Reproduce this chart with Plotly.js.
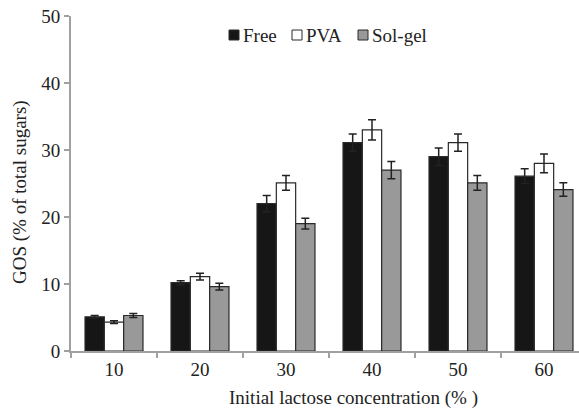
<!DOCTYPE html>
<html>
<head>
<meta charset="utf-8">
<script src="https://cdn.plot.ly/plotly-3.0.1.min.js"></script>
<style>
  html, body { margin: 0; padding: 0; background: #fff; }
  #chart { width: 579px; height: 408px; }
</style>
</head>
<body>
<div id="chart"></div>
<script>
// Initial lactose concentration (%)
const categories = ['10', '20', '30', '40', '50', '60'];

// GOS yield (% of total sugars) and standard deviations
const freeValues = [5.1, 10.2, 22.0, 31.1, 29.0, 26.1];
const freeErrors = [0.2, 0.3, 1.2, 1.3, 1.3, 1.1];

const pvaValues = [4.3, 11.1, 25.1, 33.0, 31.1, 28.0];
const pvaErrors = [0.2, 0.5, 1.1, 1.5, 1.3, 1.4];

const solgelValues = [5.3, 9.6, 19.0, 27.0, 25.1, 24.1];
const solgelErrors = [0.3, 0.5, 0.8, 1.3, 1.1, 1.0];

const seriesNames = ['Free', 'PVA', 'Sol-gel'];
const seriesFills = ['#161616', '#ffffff', '#999999'];

const serif = "'Liberation Serif', 'Times New Roman', serif";
const outline = '#2a2a2a';
const fontSize = 19;

function barTrace(name, values, errors, fill) {
  return {
    type: 'bar',
    name: name,
    x: categories,
    y: values,
    showlegend: false,
    marker: { color: fill, line: { color: outline, width: 1.2 } },
    error_y: { type: 'data', array: errors, visible: true, color: '#222', thickness: 1.5, width: 4 }
  };
}

const data = [
  barTrace(seriesNames[0], freeValues, freeErrors, seriesFills[0]),
  barTrace(seriesNames[1], pvaValues, pvaErrors, seriesFills[1]),
  barTrace(seriesNames[2], solgelValues, solgelErrors, seriesFills[2])
];

// Compact key across the top: square swatch followed by its label
const W = 579, H = 408;
const margin = { l: 71, r: 0, t: 16, b: 57 };
const plotW = W - margin.l - margin.r;
const plotH = H - margin.t - margin.b;
const px = x => (x - margin.l) / plotW;
const py = y => (H - margin.b - y) / plotH;

const keyLeft = [229, 292, 358];
const keyShapes = [];
const keyLabels = [];
seriesNames.forEach((name, i) => {
  keyShapes.push({
    type: 'rect', xref: 'paper', yref: 'paper',
    x0: px(keyLeft[i]), x1: px(keyLeft[i] + 10),
    y0: py(40), y1: py(30),
    fillcolor: seriesFills[i],
    line: { color: outline, width: 1 }
  });
  keyLabels.push({
    text: name, xref: 'paper', yref: 'paper',
    x: px(keyLeft[i] + 12), y: py(36),
    xanchor: 'left', yanchor: 'middle',
    showarrow: false,
    font: { family: serif, size: fontSize, color: '#222' }
  });
});

const axisTitles = [
  {
    text: 'Initial lactose concentration (% )',
    xref: 'paper', yref: 'paper',
    x: px(353), y: py(398),
    xanchor: 'center', yanchor: 'middle',
    showarrow: false,
    font: { family: serif, size: fontSize, color: '#222' }
  },
  {
    text: 'GOS (% of total sugars)',
    xref: 'paper', yref: 'paper',
    x: px(20), y: py(192),
    xanchor: 'center', yanchor: 'middle',
    textangle: -90,
    showarrow: false,
    font: { family: serif, size: fontSize, color: '#222' }
  }
];

const layout = {
  width: W,
  height: H,
  margin: margin,
  paper_bgcolor: '#fff',
  plot_bgcolor: '#fff',
  barmode: 'group',
  bargap: 0.326,
  bargroupgap: 0,
  font: { family: serif, size: fontSize, color: '#222' },
  showlegend: false,
  xaxis: {
    type: 'category',
    range: [-0.5, 5.407],
    showline: true,
    linecolor: '#a0a0a0',
    linewidth: 2,
    showgrid: false,
    ticks: 'outside',
    tickson: 'boundaries',
    ticklen: 5,
    tickwidth: 1.5,
    tickcolor: '#a0a0a0',
    tickfont: { family: serif, size: fontSize, color: '#222' },
    fixedrange: true
  },
  yaxis: {
    range: [0, 50],
    dtick: 10,
    showline: true,
    linecolor: '#a0a0a0',
    linewidth: 2,
    showgrid: false,
    zeroline: false,
    ticks: 'outside',
    ticklen: 5,
    tickwidth: 1.5,
    tickcolor: '#a0a0a0',
    tickfont: { family: serif, size: fontSize, color: '#222' },
    fixedrange: true
  },
  shapes: keyShapes,
  annotations: keyLabels.concat(axisTitles)
};

Plotly.newPlot('chart', data, layout, { displayModeBar: false, staticPlot: true });
</script>
</body>
</html>
